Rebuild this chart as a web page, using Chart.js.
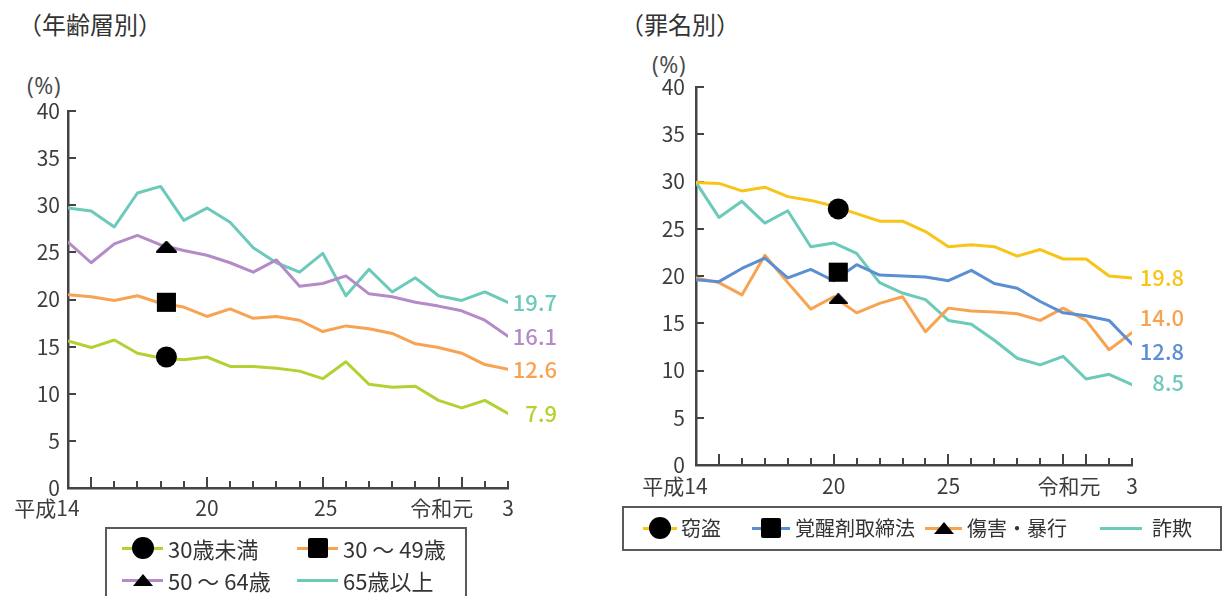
<!DOCTYPE html>
<html lang="ja">
<head>
<meta charset="utf-8">
<title>再犯者率の推移</title>
<script src="https://cdn.jsdelivr.net/npm/chart.js@4.4.1/dist/chart.umd.min.js"></script>
<style>
  html, body { margin: 0; padding: 0; background: #fff; width: 1225px; height: 596px; overflow: hidden;
    font-family: "Noto Sans CJK JP", "Noto Sans", sans-serif; }
  canvas { position: absolute; left: 0; top: 0; }
  .title { position: absolute; font-size: 24px; color: #333; line-height: 1; white-space: nowrap; }
  .unit { position: absolute; font-family: "Open Sans", "Noto Sans", sans-serif; font-size: 23px; letter-spacing: 0.5px;
    color: #4a4a4a; line-height: 1; white-space: nowrap; }
  .legend { position: absolute; border: 2px solid #5a5a5a; box-sizing: border-box; background: transparent; }
  .item { position: absolute; height: 0; }
  .item .ln { position: absolute; height: 3px; top: -1.5px; }
  .item .mk { position: absolute; background: #000; }
  .item .tri { position: absolute; width: 0; height: 0; background: none; }
  .item .tx { position: absolute; top: -14px; line-height: 28px; color: #333; white-space: nowrap; }
</style>
</head>
<body>
<div class="title" style="left:18px; top:12px;">（年齢層別）</div>
<div class="title" style="left:620px; top:12px;">（罪名別）</div>
<div class="unit" style="left:27px; top:74px;">(%)</div>
<div class="unit" style="left:652px; top:53px;">(%)</div>
<canvas id="ageChart" width="1225" height="596"></canvas>
<canvas id="crimeChart" width="1225" height="596"></canvas>
<div id="legends"></div>

<script>
// Years on the Heisei count (令和元 = 31, 令和3 = 33)
const years = [14, 15, 16, 17, 18, 19, 20, 21, 22, 23, 24, 25, 26, 27, 28, 29, 30, 31, 32, 33];
const xTickValues = [14, 20, 25, 31, 33];
const xTickLabels = ['平成14', '20', '25', '令和元', '3'];

// 年齢層別 (%)
const ageGroups = ['30歳未満', '30 ～ 49歳', '50 ～ 64歳', '65歳以上'];
const ageUnder30 = [15.6, 14.9, 15.7, 14.3, 13.8, 13.6, 13.9, 12.9, 12.9, 12.7, 12.4, 11.6, 13.4, 11.0, 10.7, 10.8, 9.3, 8.5, 9.3, 7.9];
const age30to49  = [20.5, 20.3, 19.9, 20.4, 19.6, 19.2, 18.2, 19.0, 18.0, 18.2, 17.8, 16.6, 17.2, 16.9, 16.4, 15.3, 14.9, 14.3, 13.1, 12.6];
const age50to64  = [26.1, 23.9, 25.9, 26.8, 25.8, 25.2, 24.7, 23.9, 22.9, 24.2, 21.4, 21.7, 22.5, 20.6, 20.3, 19.7, 19.3, 18.8, 17.8, 16.1];
const age65over  = [29.7, 29.4, 27.7, 31.3, 32.0, 28.4, 29.7, 28.2, 25.5, 23.9, 22.9, 24.9, 20.4, 23.2, 20.8, 22.3, 20.4, 19.9, 20.8, 19.7];
const ageMarkerYear = 18.25;
const ageMarkerValues = [13.9, 19.7, 25.6];

// 罪名別 (%)
const crimeTypes = ['窃盗', '覚醒剤取締法', '傷害・暴行', '詐欺'];
const theft      = [29.9, 29.8, 29.0, 29.4, 28.4, 28.0, 27.4, 26.6, 25.8, 25.8, 24.7, 23.1, 23.3, 23.1, 22.1, 22.8, 21.8, 21.8, 20.0, 19.8];
const stimulants = [19.6, 19.4, 20.8, 21.9, 19.8, 20.7, 19.5, 21.2, 20.1, 20.0, 19.9, 19.5, 20.6, 19.2, 18.7, 17.3, 16.1, 15.8, 15.3, 12.8];
const assault    = [19.8, 19.3, 18.0, 22.2, 19.3, 16.5, 17.8, 16.1, 17.1, 17.8, 14.1, 16.6, 16.3, 16.2, 16.0, 15.3, 16.6, 15.3, 12.2, 14.0];
const fraud      = [29.9, 26.2, 27.9, 25.6, 26.9, 23.1, 23.5, 22.4, 19.3, 18.2, 17.5, 15.3, 14.9, 13.2, 11.3, 10.6, 11.5, 9.1, 9.6, 8.5];
const crimeMarkerYear = 20.2;
const crimeMarkerValues = [27.1, 20.4, 17.6];

// ---- drawing setup ----
const W = 1225, H = 596;
Chart.defaults.font.family = '"Noto Sans CJK JP", "Noto Sans", sans-serif';

function triangleImage(w, h) {
  const c = document.createElement('canvas');
  c.width = w; c.height = h;
  const g = c.getContext('2d');
  g.fillStyle = '#000'; g.strokeStyle = '#000'; g.lineWidth = 2; g.lineJoin = 'round';
  g.beginPath(); g.moveTo(w / 2, 1); g.lineTo(w - 1, h - 1); g.lineTo(1, h - 1); g.closePath();
  g.fill(); g.stroke();
  return c;
}

// Inward tick marks and year labels along the bottom axis
const axisDecor = {
  id: 'axisDecor',
  beforeDatasetsDraw(chart, args, opts) {
    const { ctx, scales: { x, y } } = chart;
    ctx.save();
    ctx.strokeStyle = '#444';
    ctx.lineWidth = 2;
    ctx.beginPath();
    y.ticks.forEach(t => {
      const py = Math.round(y.getPixelForValue(t.value));
      ctx.moveTo(x.left, py); ctx.lineTo(x.left + 8, py);
    });
    years.forEach(v => {
      const px = Math.round(x.getPixelForValue(v));
      const len = (v % 5 === 0 || v === 31) ? 11 : 7;
      ctx.moveTo(px, y.bottom); ctx.lineTo(px, y.bottom - len);
    });
    ctx.stroke();
    ctx.fillStyle = '#3d3d3d';
    ctx.font = '21px "Noto Sans CJK JP", "Noto Sans", sans-serif';
    ctx.textAlign = 'center';
    ctx.textBaseline = 'middle';
    xTickValues.forEach((v, i) => {
      ctx.fillText(xTickLabels[i], x.getPixelForValue(v) + opts.labelShift[i], y.bottom + opts.labelGap);
    });
    ctx.restore();
  }
};

// Final-year value written at the end of each line
const endLabels = {
  id: 'endLabels',
  afterDatasetsDraw(chart, args, opts) {
    const { ctx } = chart;
    ctx.save();
    ctx.font = '500 22px "Noto Sans CJK JP", "Noto Sans", sans-serif';
    ctx.textAlign = 'right';
    ctx.textBaseline = 'middle';
    chart.data.datasets.forEach((ds, i) => {
      if (!ds.endLabel) return;
      const meta = chart.getDatasetMeta(i);
      const last = meta.data[meta.data.length - 1];
      const value = ds.data[ds.data.length - 1].y;
      ctx.fillStyle = ds.borderColor;
      ctx.fillText(value.toFixed(1), last.x + opts.dx, last.y + ds.labelDy);
    });
    ctx.restore();
  }
};

function makePanel(id, p) {
  const datasets = [];
  p.markerStyles.forEach((m, i) => {
    datasets.push({
      data: [{ x: p.markerYear, y: p.markerValues[i] }],
      showLine: false, pointStyle: m.style, pointRadius: m.r, pointHoverRadius: m.r,
      backgroundColor: '#000', borderColor: '#000', borderWidth: 0, order: 0
    });
  });
  p.series.forEach(s => {
    datasets.push({
      label: s.name,
      data: years.map((yr, i) => ({ x: yr, y: s.values[i] })),
      borderColor: s.color, borderWidth: 3, pointRadius: 0, tension: 0,
      borderCapStyle: 'round', borderJoinStyle: 'round',
      order: 1, endLabel: true, labelDy: s.dy
    });
  });
  return new Chart(document.getElementById(id), {
    type: 'line',
    data: { datasets },
    options: {
      responsive: false, animation: false, devicePixelRatio: 1, events: [],
      layout: { padding: { left: 0, top: p.area.top, right: W - p.area.right, bottom: 0 } },
      plugins: {
        legend: { display: false }, tooltip: { enabled: false },
        axisDecor: { labelShift: p.labelShift, labelGap: p.labelGap },
        endLabels: { dx: p.endDx }
      },
      scales: {
        x: {
          type: 'linear', min: 14, max: 33,
          ticks: { display: false },
          grid: { drawOnChartArea: false, drawTicks: false },
          border: { display: true, color: '#444', width: 2.5 },
          afterFit(s) { s.height = H - p.area.bottom; }
        },
        y: {
          min: 0, max: 40,
          ticks: { stepSize: 5, padding: p.yPad, color: '#3d3d3d', font: { size: 21 } },
          grid: { drawOnChartArea: false, drawTicks: false },
          border: { display: true, color: '#444', width: 2.5 },
          afterFit(s) { s.width = p.area.left; }
        }
      }
    },
    plugins: [axisDecor, endLabels]
  });
}

const colors = {
  green: '#b2d234', orange: '#f7a352', purple: '#b48bc8', teal: '#6ccabb',
  yellow: '#f8c418', blue: '#5b8fd2'
};

makePanel('ageChart', {
  area: { left: 68, top: 111, right: 508, bottom: 488 },
  yPad: 8, labelGap: 20, labelShift: [-21, 0, 3, -20, 0], endDx: 49,
  markerYear: ageMarkerYear, markerValues: ageMarkerValues,
  markerStyles: [{ style: 'circle', r: 10.5 }, { style: 'rect', r: 13.5 }, { style: triangleImage(21, 12), r: 10 }],
  series: [
    { name: ageGroups[0], values: ageUnder30, color: colors.green, dy: 0 },
    { name: ageGroups[1], values: age30to49, color: colors.orange, dy: 0 },
    { name: ageGroups[2], values: age50to64, color: colors.purple, dy: 0 },
    { name: ageGroups[3], values: age65over, color: colors.teal, dy: 0 }
  ]
});

makePanel('crimeChart', {
  area: { left: 696, top: 87, right: 1132, bottom: 465 },
  yPad: 11, labelGap: 21, labelShift: [-21, 0, 0, -17, 0], endDx: 52,
  markerYear: crimeMarkerYear, markerValues: crimeMarkerValues,
  markerStyles: [{ style: 'circle', r: 10.5 }, { style: 'rect', r: 13.5 }, { style: triangleImage(19, 11), r: 10 }],
  series: [
    { name: crimeTypes[0], values: theft, color: colors.yellow, dy: 0 },
    { name: crimeTypes[1], values: stimulants, color: colors.blue, dy: 8 },
    { name: crimeTypes[2], values: assault, color: colors.orange, dy: -15 },
    { name: crimeTypes[3], values: fraud, color: colors.teal, dy: -2 }
  ]
});

// ---- legends ----
function legendBox(box, fontSize, items) {
  const host = document.getElementById('legends');
  const b = document.createElement('div');
  b.className = 'legend';
  Object.assign(b.style, { left: box.x + 'px', top: box.y + 'px', width: box.w + 'px', height: box.h + 'px' });
  host.appendChild(b);
  items.forEach(it => {
    const d = document.createElement('div');
    d.className = 'item';
    d.style.left = it.x + 'px'; d.style.top = it.y + 'px';
    const ln = document.createElement('div');
    ln.className = 'ln';
    Object.assign(ln.style, { left: '0px', width: it.lineW + 'px', background: it.color });
    d.appendChild(ln);
    const cx = it.lineW / 2;
    if (it.marker === 'circle') {
      const m = document.createElement('div'); m.className = 'mk';
      Object.assign(m.style, { left: (cx - 11) + 'px', top: '-11px', width: '22px', height: '22px', borderRadius: '50%' });
      d.appendChild(m);
    } else if (it.marker === 'square') {
      const m = document.createElement('div'); m.className = 'mk';
      Object.assign(m.style, { left: (cx - 10) + 'px', top: '-10px', width: '20px', height: '20px', borderRadius: '2px' });
      d.appendChild(m);
    } else if (it.marker === 'triangle') {
      const m = document.createElement('div'); m.className = 'tri';
      Object.assign(m.style, { left: (cx - 10) + 'px', top: '-6px', borderLeft: '10px solid transparent',
        borderRight: '10px solid transparent', borderBottom: '12px solid #000' });
      d.appendChild(m);
    }
    const tx = document.createElement('div');
    tx.className = 'tx';
    tx.style.left = it.textX + 'px';
    tx.style.fontSize = fontSize + 'px';
    tx.textContent = it.label;
    d.appendChild(tx);
    host.appendChild(d);
  });
}

legendBox({ x: 105, y: 527, w: 362, h: 100 }, 22, [
  { x: 122, y: 548, lineW: 41, color: colors.green, marker: 'circle', textX: 46, label: ageGroups[0] },
  { x: 297, y: 548, lineW: 41, color: colors.orange, marker: 'square', textX: 46, label: ageGroups[1] },
  { x: 122, y: 580, lineW: 41, color: colors.purple, marker: 'triangle', textX: 46, label: ageGroups[2] },
  { x: 297, y: 580, lineW: 41, color: colors.teal, marker: null, textX: 46, label: ageGroups[3] }
]);

legendBox({ x: 622, y: 506, w: 600, h: 45 }, 20, [
  { x: 643, y: 528, lineW: 34, color: colors.yellow, marker: 'circle', textX: 38, label: crimeTypes[0] },
  { x: 752, y: 528, lineW: 38, color: colors.blue, marker: 'square', textX: 43, label: crimeTypes[1] },
  { x: 925, y: 528, lineW: 37, color: colors.orange, marker: 'triangle', textX: 42, label: crimeTypes[2] },
  { x: 1100, y: 528, lineW: 42, color: colors.teal, marker: null, textX: 52, label: crimeTypes[3] }
]);
</script>
</body>
</html>
